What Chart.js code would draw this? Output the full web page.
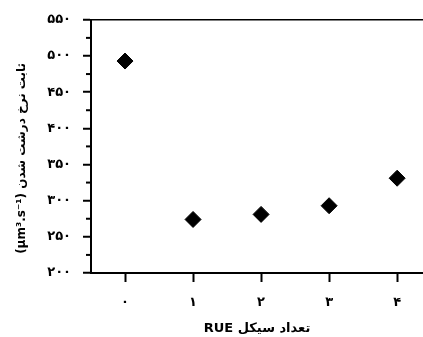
<!DOCTYPE html>
<html>
<head>
<meta charset="utf-8">
<script src="https://cdn.jsdelivr.net/npm/chart.js@4"></script>
<style>
html, body { margin: 0; padding: 0; background: #fff; }
#wrap { width: 423px; height: 337px; }
</style>
</head>
<body>
<div id="wrap"><canvas id="chart" dir="rtl"></canvas></div>
<script>
// data
const cycles = [0, 1, 2, 3, 4];
const rate = [493, 274, 281, 293, 331];
const yTicks = [200, 250, 300, 350, 400, 450, 500, 550];
const yMinor = [225, 275, 325, 375, 425, 475, 525];
const xTitle = 'تعداد سیکل RUE';
// the two em spaces at the start push the label a bit down the axis, like the original
const yTitle = '\u2003\u2003ثابت نرخ درشت شدن (μm³.s⁻¹)';

const FONT = "'DejaVu Sans', sans-serif";

function toFa(n) {
    return String(n).replace(/\d/g, d => '۰۱۲۳۴۵۶۷۸۹'[d]);
}

// short ticks between the labelled ones on the y axis
const minorTicks = {
    id: 'minorTicks',
    afterDraw(chart) {
        const ys = chart.scales.y;
        const ctx = chart.ctx;
        ctx.save();
        ctx.strokeStyle = '#000';
        ctx.lineWidth = 2;
        yMinor.forEach(v => {
            const py = ys.getPixelForValue(v);
            ctx.beginPath();
            ctx.moveTo(ys.right - 5, py);
            ctx.lineTo(ys.right, py);
            ctx.stroke();
        });
        ctx.restore();
    }
};

new Chart(document.getElementById('chart'), {
    type: 'scatter',
    data: {
        datasets: [{
            data: cycles.map((c, i) => ({x: c, y: rate[i]})),
            pointStyle: 'rectRot',
            pointRadius: 8,
            pointHoverRadius: 8,
            backgroundColor: '#000',
            borderColor: '#000',
            borderWidth: 1,
            clip: false
        }]
    },
    options: {
        responsive: true,
        maintainAspectRatio: false,
        animation: false,
        layout: {autoPadding: false, padding: {top: 18, right: 0, left: 0, bottom: 0}},
        plugins: {legend: {display: false}, tooltip: {enabled: false}},
        scales: {
            x: {
                type: 'linear',
                min: -0.5,
                max: 4.38,
                afterBuildTicks: s => { s.ticks = cycles.map(v => ({value: v})); },
                afterFit: s => { s.height = 64; },
                border: {color: '#000', width: 2},
                grid: {drawOnChartArea: false, drawTicks: true, tickLength: 9, tickColor: '#000', tickWidth: 2},
                ticks: {
                    color: '#000',
                    padding: 13,
                    font: {family: FONT, size: 13, weight: 'bold'},
                    callback: v => toFa(v)
                },
                title: {
                    display: true,
                    text: xTitle,
                    color: '#000',
                    padding: {top: 1, bottom: 1},
                    font: {family: FONT, size: 13, weight: 'bold'}
                }
            },
            y: {
                min: 200,
                max: 550,
                afterBuildTicks: s => { s.ticks = yTicks.map(v => ({value: v})); },
                afterFit: s => { s.width = 91; },
                border: {color: '#000', width: 2},
                grid: {
                    drawOnChartArea: true,
                    color: c => (c.tick && c.tick.value === 550) ? '#000' : 'rgba(0,0,0,0)',
                    lineWidth: 1.5,
                    drawTicks: true,
                    tickLength: 8,
                    tickColor: '#000',
                    tickWidth: 2
                },
                ticks: {
                    color: '#000',
                    padding: 12,
                    font: {family: FONT, size: 13, weight: 'bold'},
                    callback: v => toFa(v)
                },
                title: {
                    display: true,
                    text: yTitle,
                    color: '#000',
                    padding: {top: 15, bottom: 15},
                    font: {family: FONT, size: 12, weight: 'bold'}
                }
            }
        }
    },
    plugins: [minorTicks]
});
</script>
</body>
</html>
